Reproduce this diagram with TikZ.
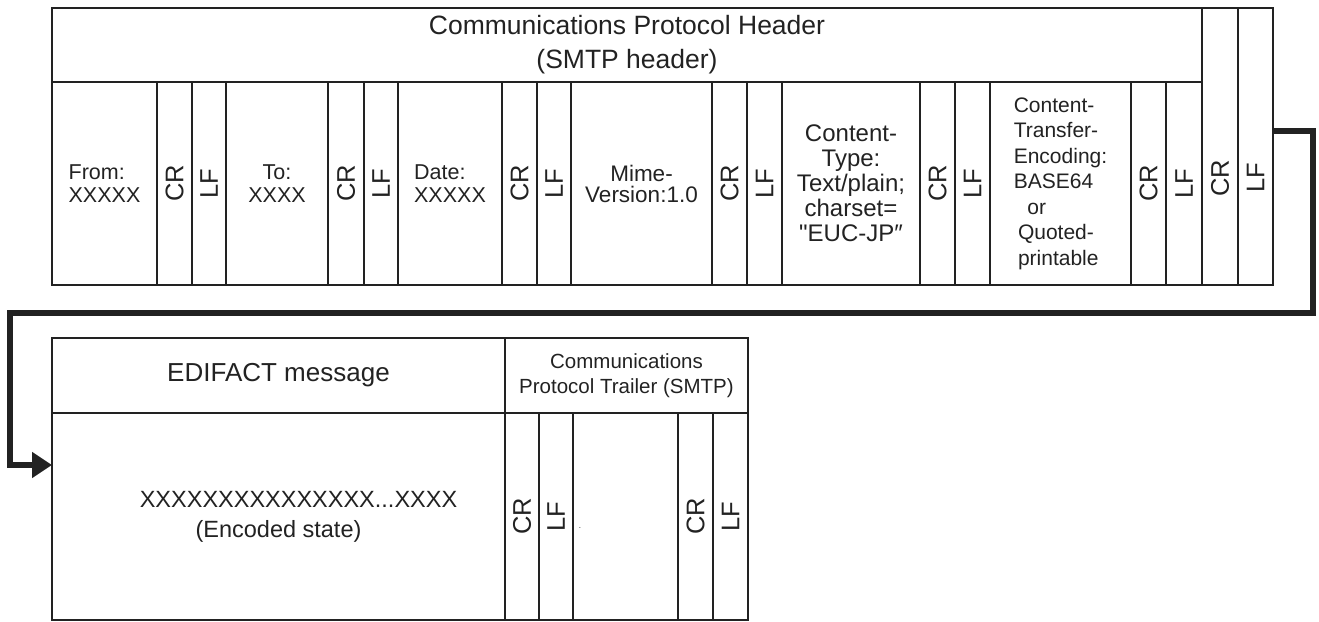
\documentclass[tikz,border=0pt]{standalone}
\usepackage{fontspec}
\usepackage{graphicx}
\setmainfont{Liberation Sans}
\newfontfamily\nomap{Liberation Sans}
\usetikzlibrary{arrows.meta}
\definecolor{ink}{HTML}{222222}
\newcommand\fsTitle{\fontsize{26.5}{34}\selectfont}
\newcommand\fsSmall{\fontsize{21.5}{23}\selectfont}
\newcommand\fsMime{\fontsize{22.5}{21}\selectfont}
\newcommand\fsType{\fontsize{24}{25}\selectfont}
\newcommand\fsCte{\fontsize{21}{25.5}\selectfont}
\newcommand\fsEdi{\fontsize{26}{30}\selectfont}
\newcommand\fsEnc{\fontsize{23.5}{30}\selectfont}
\newcommand\fsTrl{\fontsize{20.5}{25}\selectfont}
\newcommand\vt[1]{\rotatebox{90}{\fontsize{25.5}{25}\selectfont #1}}
\begin{document}
\begin{tikzpicture}[x=1pt,y=-1pt,
  cell/.style={draw=ink, line width=1.7pt, inner sep=0pt, outer sep=0pt, text=ink, align=center},
  lbl/.style={inner sep=0pt, text=ink},
  conn/.style={draw=ink, line width=5.5pt, line join=miter, -{Triangle[width=25pt,length=20pt]}}]
\useasboundingbox (0,0) rectangle (1319,621);
% ---- top: SMTP header ----
\node[cell, minimum width=1150pt, minimum height=74pt, font=\fsTitle] (hdr) at (627,45) {Communications Protocol Header\\(SMTP header)};
\node[cell, minimum width=105pt, minimum height=203pt, align=left, font=\fsSmall] (from) at (104.5,183.5) {From:\\XXXXX};
\node[cell, minimum width=35pt, minimum height=203pt] (cr1) at (174.5,183.5) {\vt{CR}};
\node[cell, minimum width=34pt, minimum height=203pt] (lf1) at (209,183.5) {\vt{LF}};
\node[cell, minimum width=102pt, minimum height=203pt, font=\fsSmall] (to) at (277,183.5) {To:\\XXXX};
\node[cell, minimum width=36pt, minimum height=203pt] (cr2) at (346,183.5) {\vt{CR}};
\node[cell, minimum width=34pt, minimum height=203pt] (lf2) at (381,183.5) {\vt{LF}};
\node[cell, minimum width=104pt, minimum height=203pt, align=left, font=\fsSmall] (date) at (450,183.5) {Date:\\XXXXX};
\node[cell, minimum width=35pt, minimum height=203pt] (cr3) at (519.5,183.5) {\vt{CR}};
\node[cell, minimum width=34pt, minimum height=203pt] (lf3) at (554,183.5) {\vt{LF}};
\node[cell, minimum width=141pt, minimum height=203pt, font=\fsMime] (mime) at (641.5,183.5) {Mime-\\Version:1.0};
\node[cell, minimum width=35pt, minimum height=203pt] (cr4) at (729.5,183.5) {\vt{CR}};
\node[cell, minimum width=35pt, minimum height=203pt] (lf4) at (764.5,183.5) {\vt{LF}};
\node[cell, minimum width=138pt, minimum height=203pt, font=\fsType] (ctype) at (851,183.5) {Content-\\Type:\\Text/plain;\\charset=\\{\nomap"}EUC-JP″};
\node[cell, minimum width=35pt, minimum height=203pt] (cr5) at (937.5,183.5) {\vt{CR}};
\node[cell, minimum width=35pt, minimum height=203pt] (lf5) at (972.5,183.5) {\vt{LF}};
\node[cell, minimum width=141pt, minimum height=203pt, align=left, font=\fsCte] (cte) at (1060.5,183.5) {Content-\\Transfer-\\Encoding:\\BASE64\\\hspace*{0.65em}or\\\hspace*{0.2em}Quoted-\\\hspace*{0.2em}printable};
\node[cell, minimum width=35pt, minimum height=203pt] (cr6) at (1148.5,183.5) {\vt{CR}};
\node[cell, minimum width=36pt, minimum height=203pt] (lf6) at (1184,183.5) {\vt{LF}};
\node[cell, minimum width=36pt, minimum height=277pt] (cr7) at (1220,146.5) {};
\node[cell, minimum width=35pt, minimum height=277pt] (lf7) at (1255.5,146.5) {};
\node[lbl] (cr7t) at (1220,178) {\vt{CR}};
\node[lbl] (lf7t) at (1255.5,178) {\vt{LF}};
% ---- bottom: EDIFACT message + trailer ----
\node[cell, minimum width=453pt, minimum height=75pt, font=\fsEdi] (edi) at (278.5,375.5) {EDIFACT message};
\node[cell, minimum width=243pt, minimum height=75pt, font=\fsTrl] (trl) at (626.5,375.5) {Communications\\Protocol Trailer (SMTP)};
\node[cell, minimum width=453pt, minimum height=207pt, font=\fsEnc] (body) at (278.5,516.5) {\hspace*{40pt}XXXXXXXXXXXXXXX...XXXX\\(Encoded state)};
\node[cell, minimum width=34pt, minimum height=207pt] (bcr1) at (522,516.5) {\vt{CR}};
\node[cell, minimum width=34pt, minimum height=207pt] (blf1) at (556,516.5) {\vt{LF}};
\node[cell, minimum width=105pt, minimum height=207pt] (bmid) at (625.5,516.5) {};
\node[cell, minimum width=35pt, minimum height=207pt] (bcr2) at (695.5,516.5) {\vt{CR}};
\node[cell, minimum width=35pt, minimum height=207pt] (blf2) at (730.5,516.5) {\vt{LF}};
\node[lbl, font=\fontsize{8}{8}\selectfont] (dot) at (580,528) {.};
% ---- connector ----
\draw[conn] ([yshift=15.5pt]lf7.east) -- ++(40,0) |- (10,313) |- ([yshift=51.5pt]body.west);
\end{tikzpicture}
\end{document}
